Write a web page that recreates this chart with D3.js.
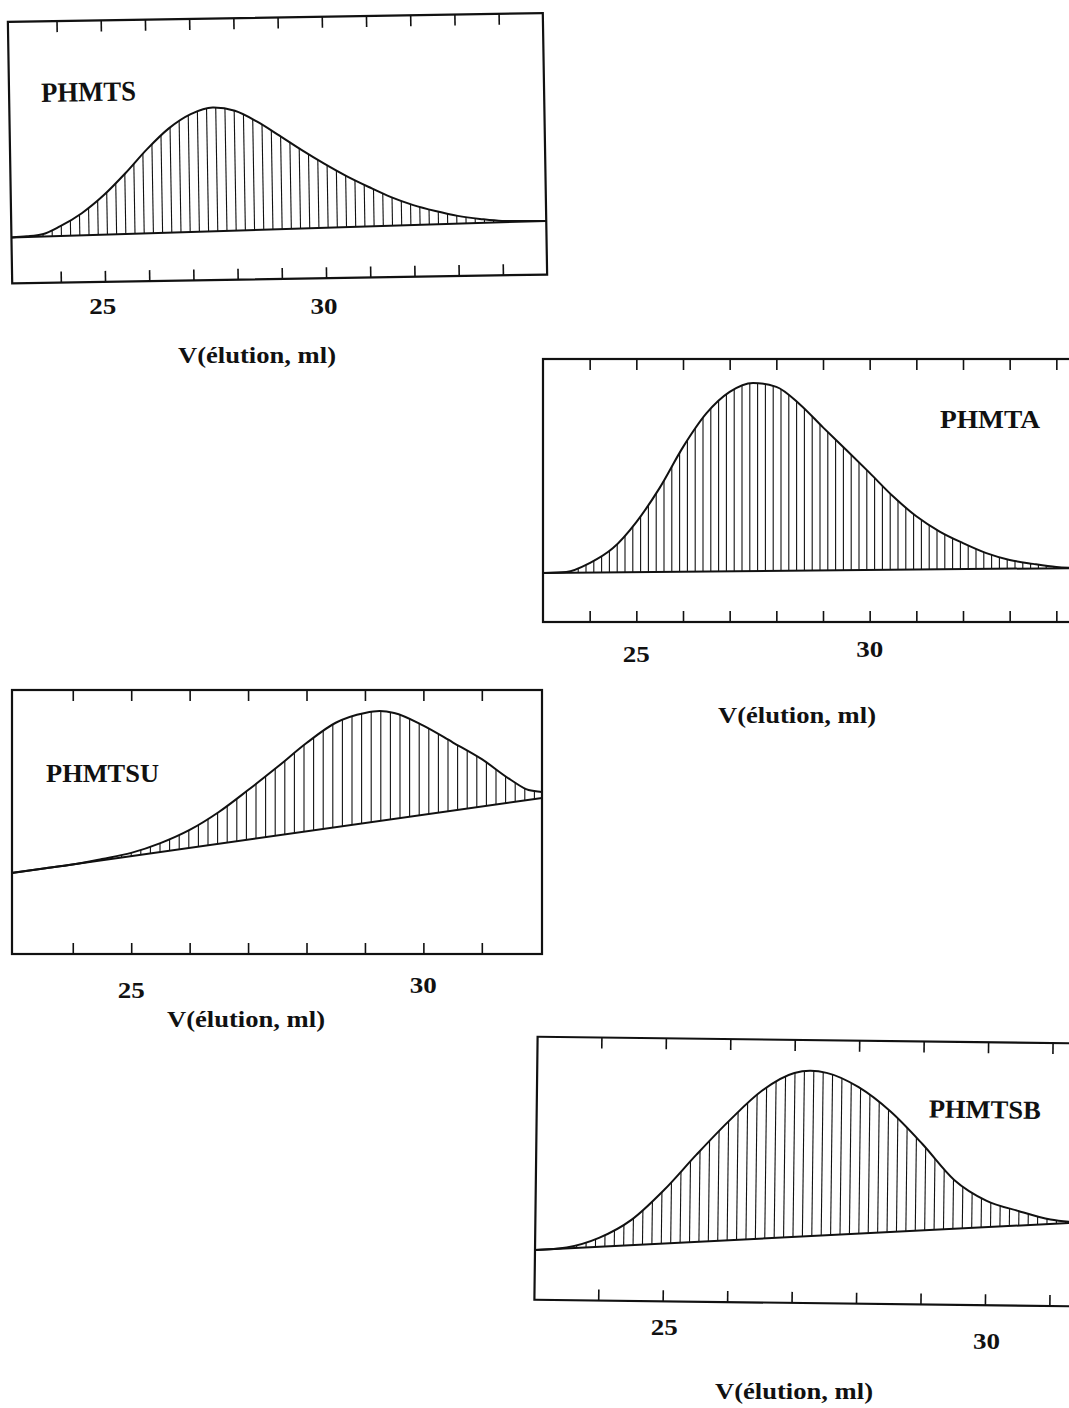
<!DOCTYPE html>
<html><head><meta charset="utf-8">
<script src="https://cdn.jsdelivr.net/npm/d3@7"></script>
<style>
body{margin:0;background:#fff}
svg{display:block}
text{font-family:"Liberation Serif","Times New Roman",serif;font-weight:bold;fill:#111}
</style>
</head><body>
<svg id="c" width="1069" height="1408"></svg>
<script>
// ---------- DATA (elution volume in ml, detector signal in arbitrary units 0-100) ----------
const phmtsVol = [22.9, 23.25, 23.6, 24, 24.5, 25, 25.5, 26, 26.5, 27, 27.5, 28, 28.5, 29, 29.5, 30, 30.5, 31, 31.5, 32, 32.5, 33, 33.5, 34, 35];
const phmtsSig = [17.6, 17.9, 18.6, 21.5, 26.4, 33.1, 41.4, 50.5, 58.3, 63.6, 66.0, 64.6, 60.3, 54.8, 49.1, 43.8, 38.9, 34.6, 30.6, 27.4, 25.0, 23.0, 21.7, 20.8, 20.5];
const phmtsBaseVol = [22.9, 35];
const phmtsBaseSig = [17.6, 20.5];

const phmtaVol = [23, 23.5, 24, 24.5, 25, 25.5, 26, 26.5, 27, 27.5, 28, 28.5, 29, 29.5, 30, 30.5, 31, 31.5, 32, 32.5, 33, 33.5, 34, 34.4];
const phmtaSig = [18.6, 19.0, 22.4, 28.1, 38.0, 51.0, 66.5, 79.3, 87.5, 90.9, 89.4, 82.8, 74.0, 65.4, 56.7, 47.8, 40.2, 34.4, 30.0, 26.2, 23.6, 22.1, 20.9, 20.5];
const phmtaBaseVol = [23, 34.4];
const phmtaBaseSig = [18.6, 20.5];

const phmtsuVol = [22.96, 23.5, 24, 24.5, 25, 25.5, 26, 26.5, 27, 27.5, 28, 28.5, 29, 29.25, 29.5, 30, 30.5, 31, 31.5, 31.8, 32.03];
const phmtsuSig = [30.7, 32.4, 33.9, 36.0, 38.3, 42.0, 47.0, 53.8, 62.1, 70.8, 79.9, 87.6, 91.3, 92.0, 91.3, 86.5, 80.2, 73.8, 65.9, 62.1, 61.4];
const phmtsuBaseVol = [22.96, 32.03];
const phmtsuBaseSig = [30.7, 59.1];

const phmtsbVol = [23.01, 23.5, 24, 24.5, 25, 25.5, 26, 26.5, 27, 27.25, 27.5, 28, 28.5, 29, 29.5, 30, 30.5, 31, 31.45];
const phmtsbSig = [18.9, 20.0, 23.8, 30.8, 42.3, 56.0, 69.0, 80.5, 87.4, 88.3, 87.6, 82.3, 73.2, 61.0, 47.5, 39.8, 36.0, 32.9, 31.9];
const phmtsbBaseVol = [23.01, 31.45];
const phmtsbBaseSig = [18.9, 31.9];

const ticksWide = [24, 25, 26, 27, 28, 29, 30, 31, 32, 33, 34];
const ticksNarrow = [24, 25, 26, 27, 28, 29, 30, 31];
const tickLabels = [25, 30];
const axisTitle = "V(élution, ml)";

// ---------- LAYOUT ----------
const panels = [
  {name:"PHMTS", vol:phmtsVol, sig:phmtsSig, bVol:phmtsBaseVol, bSig:phmtsBaseSig,
   domain:[22.9,35], ticks:ticksWide, left:10, right:545, top:17.5, bottom:279,
   rot:-0.95, rc:[277.5,148], hatch:9.2,
   label:{x:42, y:98, len:95, size:28},
   tickY:[314,314], title:{cx:257, y:363}},
  {name:"PHMTA", vol:phmtaVol, sig:phmtaSig, bVol:phmtaBaseVol, bSig:phmtaBaseSig,
   domain:[23,34.4], ticks:ticksWide, left:543, right:1075, top:359, bottom:622,
   rot:0, rc:[800,490], hatch:7.8,
   label:{x:940, y:428, len:100, size:25},
   tickY:[662,657], title:{cx:797, y:723}},
  {name:"PHMTSU", vol:phmtsuVol, sig:phmtsuSig, bVol:phmtsuBaseVol, bSig:phmtsuBaseSig,
   domain:[22.96,32.03], ticks:ticksNarrow, left:12, right:542, top:690, bottom:954,
   rot:0, rc:[277,820], hatch:9.6,
   label:{x:46, y:782, len:113, size:26},
   tickY:[998,993], title:{cx:246, y:1027}},
  {name:"PHMTSB", vol:phmtsbVol, sig:phmtsbSig, bVol:phmtsbBaseVol, bSig:phmtsbBaseSig,
   domain:[23.01,31.45], ticks:ticksNarrow, left:536, right:1080, top:1040, bottom:1303,
   rot:0.7, rc:[803,1170], hatch:9.4,
   label:{x:928, y:1116, len:112, size:26},
   tickY:[1335,1349], title:{cx:794, y:1399}}
];

const svg = d3.select("#c");
const ink = "#111";

panels.forEach((p, i) => {
  const x = d3.scaleLinear().domain(p.domain).range([p.left, p.right]);
  const y = d3.scaleLinear().domain([0, 100]).range([p.bottom, p.top]);
  const base = d3.scaleLinear().domain(p.bVol).range(p.bSig);
  const data = p.vol.map((v, k) => ({v, s: p.sig[k]}));

  const g = svg.append("g")
    .attr("transform", `rotate(${p.rot},${p.rc[0]},${p.rc[1]})`);

  // area between baseline and curve, used as clip for hatching
  const area = d3.area()
    .x(d => x(d.v))
    .y0(d => y(base(d.v)))
    .y1(d => y(Math.max(d.s, base(d.v))))
    .curve(d3.curveMonotoneX);
  const cid = "clip" + i;
  g.append("clipPath").attr("id", cid).append("path").attr("d", area(data));

  const hx = d3.range(p.left + 4, p.right, p.hatch);
  g.append("g").attr("clip-path", `url(#${cid})`)
    .selectAll("line").data(hx).join("line")
    .attr("x1", d => d).attr("x2", d => d)
    .attr("y1", p.top).attr("y2", p.bottom)
    .attr("stroke", ink).attr("stroke-width", 1.1);

  // baseline
  const bl = d3.line().x(d => x(d[0])).y(d => y(d[1]));
  g.append("path").attr("d", bl(p.bVol.map((v, k) => [v, p.bSig[k]])))
    .attr("fill", "none").attr("stroke", ink).attr("stroke-width", 2);

  // signal curve
  const line = d3.line().x(d => x(d.v)).y(d => y(d.s)).curve(d3.curveMonotoneX);
  g.append("path").attr("d", line(data))
    .attr("fill", "none").attr("stroke", ink).attr("stroke-width", 2);

  // frame
  g.append("rect")
    .attr("x", p.left).attr("y", p.top)
    .attr("width", p.right - p.left).attr("height", p.bottom - p.top)
    .attr("fill", "none").attr("stroke", ink).attr("stroke-width", 2.2);

  // inward ticks top & bottom
  const axB = d3.axisBottom(x).tickValues(p.ticks).tickSizeInner(-11).tickSizeOuter(0).tickFormat("");
  const axT = d3.axisTop(x).tickValues(p.ticks).tickSizeInner(-11).tickSizeOuter(0).tickFormat("");
  const gb = g.append("g").attr("transform", `translate(0,${p.bottom})`).call(axB);
  const gt = g.append("g").attr("transform", `translate(0,${p.top})`).call(axT);
  [gb, gt].forEach(a => {
    a.select(".domain").remove();
    a.selectAll(".tick line").attr("stroke", ink).attr("stroke-width", 1.6);
  });

  // sample label
  g.append("text")
    .attr("x", p.label.x).attr("y", p.label.y)
    .attr("font-size", p.label.size)
    .attr("textLength", p.label.len).attr("lengthAdjust", "spacingAndGlyphs")
    .text(p.name);

  // tick labels 25 / 30
  tickLabels.forEach((t, k) => {
    svg.append("text")
      .attr("x", x(t) - 13.5).attr("y", p.tickY[k])
      .attr("font-size", 24)
      .attr("textLength", 27).attr("lengthAdjust", "spacingAndGlyphs")
      .text(t);
  });

  // axis title
  svg.append("text")
    .attr("x", p.title.cx - 79).attr("y", p.title.y)
    .attr("font-size", 24)
    .attr("textLength", 158).attr("lengthAdjust", "spacingAndGlyphs")
    .text(axisTitle);
});
</script>
</body></html>
